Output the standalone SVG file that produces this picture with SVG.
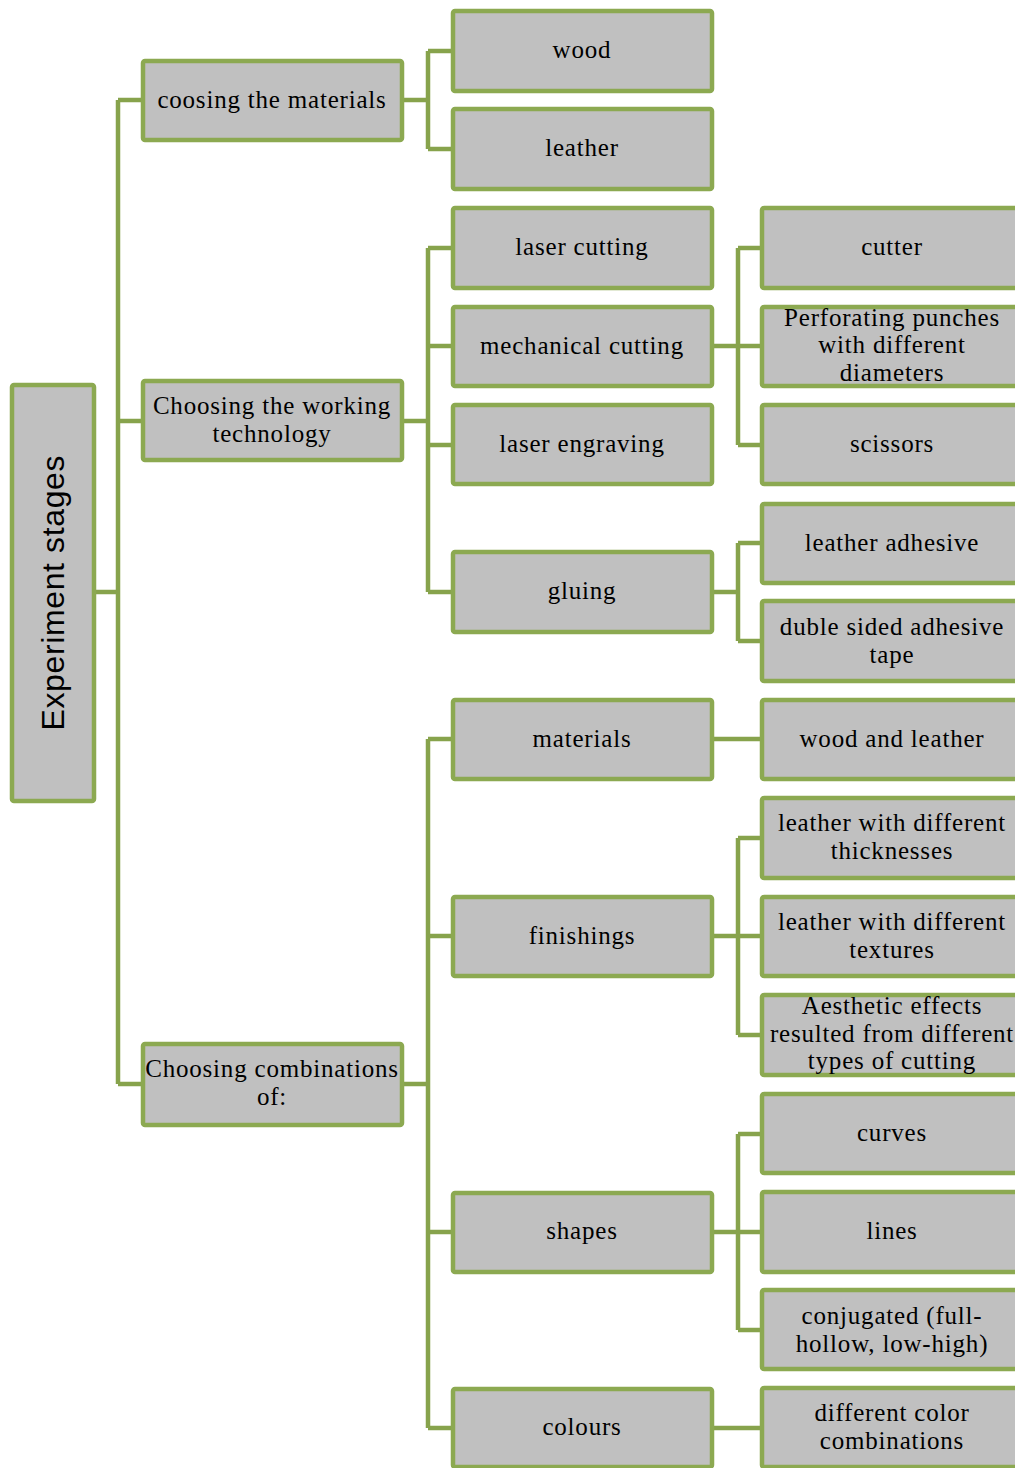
<svg xmlns="http://www.w3.org/2000/svg" width="1015" height="1468" viewBox="0 0 1015 1468">
<style>
.box{fill:#C0C0C0;stroke:#8CA951;stroke-width:4.5}
.t{font-family:"Liberation Serif","Times New Roman",serif;font-size:25px;letter-spacing:0.8px;fill:#000;text-anchor:middle}
.s{font-family:"Liberation Sans",Arial,sans-serif;font-size:32px;fill:#000;text-anchor:middle}
.c{fill:none;stroke:#87A34C;stroke-width:4.5}
</style>
<rect width="1015" height="1468" fill="#fff"/>
<g id="connectors">
<path class="c" d="M94 592H118M118 100V1084M118 100H143M118 421H143M118 1084H143"/>
<path class="c" d="M402 100H428M428 51V149M428 51H453M428 149H453"/>
<path class="c" d="M402 421H428M428 248V592M428 248H453M428 346H453M428 445H453M428 592H453"/>
<path class="c" d="M402 1084H428M428 739V1428M428 739H453M428 936H453M428 1232H453M428 1428H453"/>
<path class="c" d="M712 346H738M738 248V445M738 248H762M738 346H762M738 445H762"/>
<path class="c" d="M712 592H738M738 543V641M738 543H762M738 641H762"/>
<path class="c" d="M712 739H762"/>
<path class="c" d="M712 936H738M738 838V1035M738 838H762M738 936H762M738 1035H762"/>
<path class="c" d="M712 1232H738M738 1134V1330M738 1134H762M738 1232H762M738 1330H762"/>
<path class="c" d="M712 1428H762"/>
</g>
<g id="root"><rect class="box" x="12" y="385" width="82" height="416" rx="2"/><text class="s" transform="translate(64 593) rotate(-90)" textLength="275">Experiment stages</text></g>
<g id="n-materials"><rect class="box" x="143" y="61" width="259" height="79" rx="2"/><text class="t" x="272" y="108">coosing the materials</text></g>
<g id="n-technology"><rect class="box" x="143" y="381" width="259" height="79" rx="2"/><text class="t" x="272" y="414">Choosing the working</text><text class="t" x="272" y="442">technology</text></g>
<g id="n-combinations"><rect class="box" x="143" y="1044" width="259" height="81" rx="2"/><text class="t" x="272" y="1077">Choosing combinations</text><text class="t" x="272" y="1105">of:</text></g>
<g id="n-wood"><rect class="box" x="453" y="11" width="259" height="80" rx="2"/><text class="t" x="582" y="58">wood</text></g>
<g id="n-leather"><rect class="box" x="453" y="109" width="259" height="80" rx="2"/><text class="t" x="582" y="156">leather</text></g>
<g id="n-laser-cutting"><rect class="box" x="453" y="208" width="259" height="80" rx="2"/><text class="t" x="582" y="255">laser cutting</text></g>
<g id="n-mechanical-cutting"><rect class="box" x="453" y="307" width="259" height="79" rx="2"/><text class="t" x="582" y="354">mechanical cutting</text></g>
<g id="n-laser-engraving"><rect class="box" x="453" y="405" width="259" height="79" rx="2"/><text class="t" x="582" y="452">laser engraving</text></g>
<g id="n-gluing"><rect class="box" x="453" y="552" width="259" height="80" rx="2"/><text class="t" x="582" y="599">gluing</text></g>
<g id="n-comb-materials"><rect class="box" x="453" y="700" width="259" height="79" rx="2"/><text class="t" x="582" y="747">materials</text></g>
<g id="n-finishings"><rect class="box" x="453" y="897" width="259" height="79" rx="2"/><text class="t" x="582" y="944">finishings</text></g>
<g id="n-shapes"><rect class="box" x="453" y="1193" width="259" height="79" rx="2"/><text class="t" x="582" y="1239">shapes</text></g>
<g id="n-colours"><rect class="box" x="453" y="1389" width="259" height="78" rx="2"/><text class="t" x="582" y="1435">colours</text></g>
<g id="n-cutter"><rect class="box" x="762" y="208" width="260" height="80" rx="2"/><text class="t" x="892" y="255">cutter</text></g>
<g id="n-punches"><rect class="box" x="762" y="307" width="260" height="79" rx="2"/><text class="t" x="892" y="326">Perforating punches</text><text class="t" x="892" y="353">with different</text><text class="t" x="892" y="381">diameters</text></g>
<g id="n-scissors"><rect class="box" x="762" y="405" width="260" height="79" rx="2"/><text class="t" x="892" y="452">scissors</text></g>
<g id="n-leather-adhesive"><rect class="box" x="762" y="504" width="260" height="79" rx="2"/><text class="t" x="892" y="551">leather adhesive</text></g>
<g id="n-tape"><rect class="box" x="762" y="601" width="260" height="80" rx="2"/><text class="t" x="892" y="635">duble sided adhesive</text><text class="t" x="892" y="663">tape</text></g>
<g id="n-wood-leather"><rect class="box" x="762" y="700" width="260" height="79" rx="2"/><text class="t" x="892" y="747">wood and leather</text></g>
<g id="n-thicknesses"><rect class="box" x="762" y="798" width="260" height="80" rx="2"/><text class="t" x="892" y="831">leather with different</text><text class="t" x="892" y="859">thicknesses</text></g>
<g id="n-textures"><rect class="box" x="762" y="897" width="260" height="79" rx="2"/><text class="t" x="892" y="930">leather with different</text><text class="t" x="892" y="958">textures</text></g>
<g id="n-aesthetic"><rect class="box" x="762" y="995" width="260" height="80" rx="2"/><text class="t" x="892" y="1014">Aesthetic  effects</text><text class="t" x="892" y="1042">resulted from different</text><text class="t" x="892" y="1069">types  of cutting</text></g>
<g id="n-curves"><rect class="box" x="762" y="1094" width="260" height="79" rx="2"/><text class="t" x="892" y="1141">curves</text></g>
<g id="n-lines"><rect class="box" x="762" y="1192" width="260" height="80" rx="2"/><text class="t" x="892" y="1239">lines</text></g>
<g id="n-conjugated"><rect class="box" x="762" y="1290" width="260" height="79" rx="2"/><text class="t" x="892" y="1324">conjugated (full-</text><text class="t" x="892" y="1352">hollow, low-high)</text></g>
<g id="n-color-combinations"><rect class="box" x="762" y="1388" width="260" height="79" rx="2"/><text class="t" x="892" y="1421">different color</text><text class="t" x="892" y="1449">combinations</text></g>
</svg>
